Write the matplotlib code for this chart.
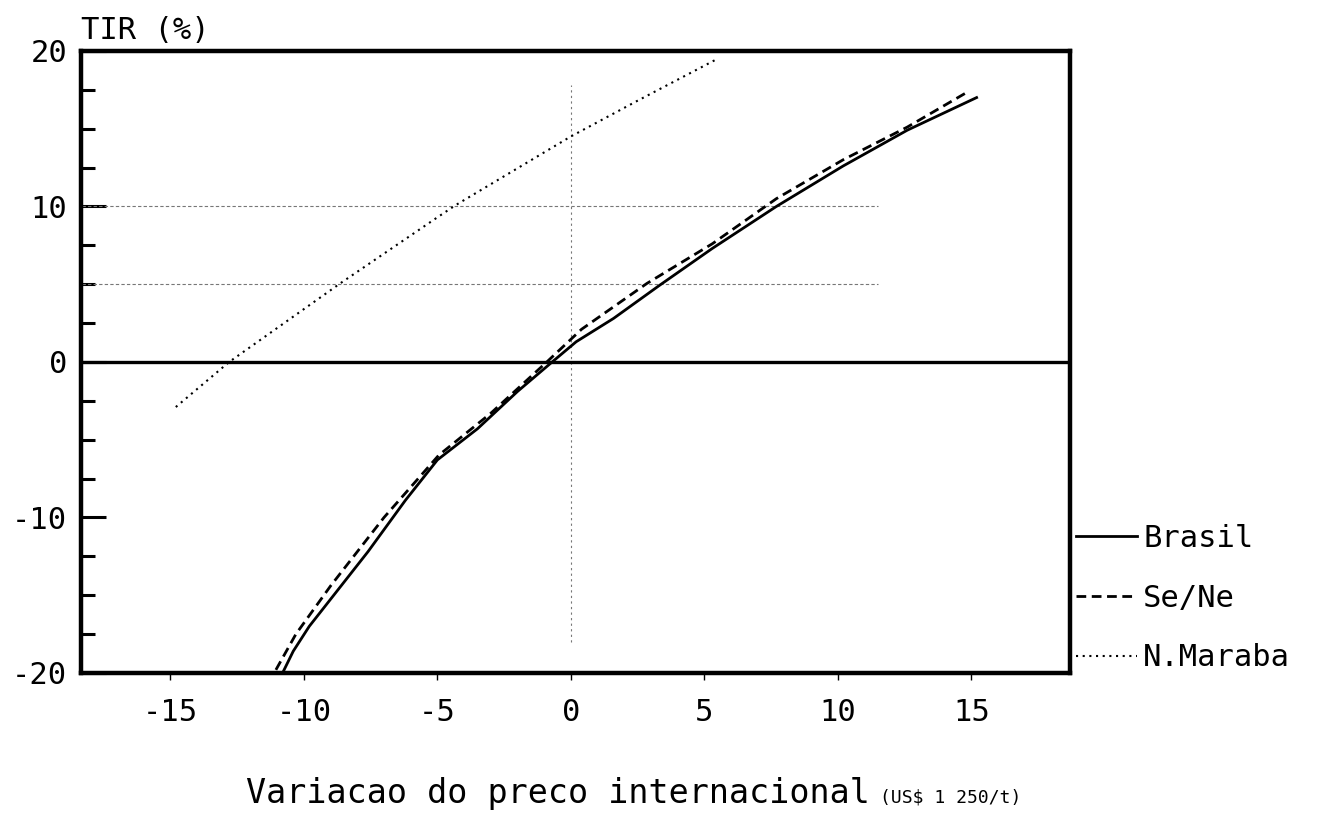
import numpy as np
import matplotlib
matplotlib.use("Agg")
import matplotlib.pyplot as plt
from matplotlib.lines import Line2D

# valores (TIR % vs variacao do preco)
x_brasil = [-10.8, -10.4, -9.8, -7.6, -6.2, -5.0, -3.5, -2.0, -0.7, 0.2, 1.6, 3.3, 5.3, 7.7, 10.2, 12.6, 15.2]
y_brasil = [-20.0, -18.6, -17.0, -12.2, -8.9, -6.3, -4.3, -1.9, 0.0, 1.3, 2.8, 4.9, 7.3, 10.0, 12.6, 14.9, 17.0]

x_sene = [-11.05, -10.3, -9.0, -7.0, -4.95, -3.0, -0.9, 0.4, 2.85, 5.3, 7.7, 10.2, 12.6, 14.9]
y_sene = [-19.8, -17.5, -14.4, -10.0, -6.0, -3.3, 0.0, 2.1, 5.05, 7.6, 10.5, 13.0, 15.1, 17.4]

x_maraba = [-14.8, -12.8, -10.0, -8.6, -5.0, -4.3, 0.0, 2.5, 5.5]
y_maraba = [-2.9, 0.0, 3.4, 5.1, 9.3, 10.1, 14.5, 16.8, 19.5]

series_names = ["Brasil", "Se/Ne", "N.Maraba"]
x_ticks = [-15, -10, -5, 0, 5, 10, 15]
y_ticks = [-20, -10, 0, 10, 20]

font = "DejaVu Sans Mono"
fs = 22

fig = plt.figure(figsize=(13.22, 8.24), dpi=100)
ax = fig.add_axes([0.0613, 0.1833, 0.7481, 0.7549])

# linhas de referencia
ax.hlines([10, 5], -18.3, 11.5, colors="#777777", linestyles=(0, (3, 2)), linewidth=0.8)
ax.vlines(0, -18.0, 17.8, colors="#777777", linestyles=(0, (2, 3)), linewidth=0.8)
ax.axhline(0, color="black", linewidth=2.4)

sty_brasil = dict(color="black", linewidth=2.0, linestyle="-")
sty_sene = dict(color="black", linewidth=2.0, linestyle=(0, (3.5, 2)))
sty_maraba = dict(color="black", linewidth=1.5, linestyle=(0, (1, 2.2)))

ax.plot(x_brasil, y_brasil, **sty_brasil)
ax.plot(x_sene, y_sene, **sty_sene)
ax.plot(x_maraba, y_maraba, **sty_maraba)

ax.set_xlim(-18.35, 18.7)
ax.set_ylim(-20, 20)

for s in ax.spines.values():
    s.set_linewidth(3.2)

ax.set_xticks(x_ticks)
ax.set_xticklabels([str(v) for v in x_ticks], fontfamily=font, fontsize=fs)
ax.set_yticks(y_ticks)
ax.set_yticklabels([str(v) for v in y_ticks], fontfamily=font, fontsize=fs)
ax.set_yticks(np.arange(-17.5, 20, 2.5), minor=True)
ax.tick_params(axis="x", direction="out", length=5, width=1, pad=13)
ax.tick_params(axis="y", which="major", direction="in", length=18, width=2.2, pad=10)
ax.tick_params(axis="y", which="minor", direction="in", length=10, width=2.2)

ax.text(0.0, 1.01, "TIR (%)", transform=ax.transAxes, fontfamily=font, fontsize=fs,
        ha="left", va="bottom")

fig.text(0.186, 0.026, "Variacao do preco internacional", fontfamily=font, fontsize=24,
         ha="left", va="baseline")
fig.text(0.666, 0.026, "(US$ 1 250/t)", fontfamily=font, fontsize=13,
         ha="left", va="baseline")

handles = [Line2D([], [], **sty_brasil), Line2D([], [], **sty_sene), Line2D([], [], **sty_maraba)]
leg = ax.legend(handles, series_names, loc="lower left", bbox_to_anchor=(1.0, -0.009),
                frameon=False, handlelength=2.0, handletextpad=0.2, labelspacing=1.01,
                borderaxespad=0.0, borderpad=0.2, prop={"family": font, "size": fs})

fig.savefig("out.png", dpi=100)
